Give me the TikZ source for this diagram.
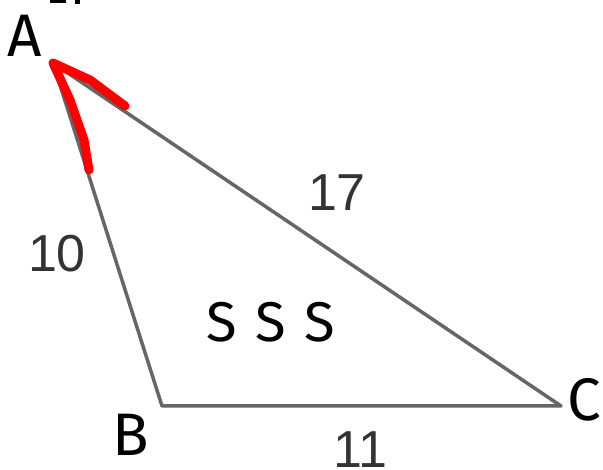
\documentclass[tikz,border=0pt]{standalone}
\usepackage{fontspec}
\setmainfont{Liberation Sans}
\newfontfamily\handfont{Fira Sans}
\begin{document}
\begin{tikzpicture}[x=1pt,y=-1pt,
  edge/.style={draw=black!60,line width=3.5pt,line cap=round,line join=round},
  meas/.style={inner sep=0pt,font=\fontsize{52}{52}\selectfont,text=black!80},
  hand/.style={inner sep=0pt,font=\handfont\fontsize{60}{60}\selectfont,text=black},
  redmark/.style={draw=red,line width=9pt,line cap=round,line join=round}]
\useasboundingbox (0,0) rectangle (603,470);
\coordinate (A) at (53,63);
\coordinate (B) at (162,406);
\coordinate (C) at (561,406);
\coordinate (rab) at (89,170);
\coordinate (rac) at (125,106);
\draw[edge] (A) -- (B) -- (C) -- cycle;
\draw[redmark] (rab) -- (84,140) -- (70,100) -- (A) -- (90,80) -- (rac);
\node[meas] (l17) at (337,193) {17};
\node[meas] (l10) at (57,254) {10};
\node[meas] (l11) at (360,450) {11};
\node[hand] (lA) at (25,36) {A};
\node[hand] (lB) at (131,435) {B};
\node[hand] (lC) at (584,400) {C};
\node[hand,font=\handfont\fontsize{56}{56}\selectfont] (lS) at (271,322) {S\,\,S\,\,S};
\fill[black] (50,0) rectangle (66,3);
\fill[black] (75,0) rectangle (80,4);
\end{tikzpicture}
\end{document}
